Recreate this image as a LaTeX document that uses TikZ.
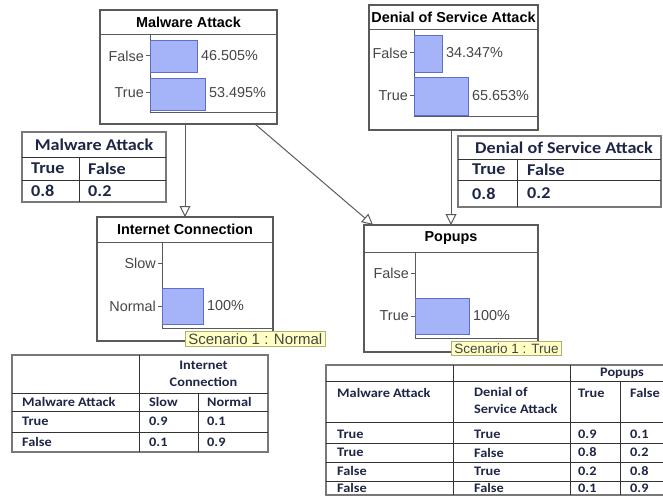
\documentclass[tikz,border=0pt]{standalone}
\usepackage{fontspec}
\setmainfont{Liberation Sans}
\newfontfamily\tabfont[FakeStretch=1.1]{Carlito}
\usetikzlibrary{arrows.meta}

\definecolor{barfill}{RGB}{165,180,248}
\definecolor{bardraw}{RGB}{95,110,200}
\definecolor{boxgray}{RGB}{90,90,90}
\definecolor{labgray}{RGB}{70,70,70}
\definecolor{tipfill}{RGB}{255,255,196}
\definecolor{tipdraw}{RGB}{175,175,120}
\definecolor{tabblue}{RGB}{30,38,70}
\definecolor{tabgray}{RGB}{120,120,120}

\tikzset{
	bnbox/.style={draw=boxgray, line width=1.3pt, fill=white, inner sep=0pt, outer sep=0pt},
	bnline/.style={draw=boxgray, line width=1pt},
	bntitle/.style={font=\fontsize{14.4}{16}\selectfont\bfseries, inner sep=0pt},
	bnlab/.style={font=\fontsize{14.4}{16}\selectfont, text=labgray, inner sep=0pt},
	bar/.style={fill=barfill, draw=bardraw, line width=0.8pt},
	tip/.style={fill=tipfill, draw=tipdraw, line width=0.8pt, font=\fontsize{15}{17}\selectfont, text=labgray, inner xsep=3pt, inner ysep=2pt, anchor=north west},
	link/.style={draw=boxgray, line width=1pt, -{Triangle[open, width=11pt, length=11pt]}},
	tabtxt/.style={font=\tabfont\bfseries\fontsize{13}{17}\selectfont, text=tabblue, inner sep=0pt, anchor=west},
	tabbig/.style={tabtxt, font=\tabfont\bfseries\fontsize{16.5}{18}\selectfont},
	tabline/.style={draw=black!80, line width=0.8pt},
	tabframe/.style={draw=tabgray, line width=1.6pt}
}

\begin{document}
\begin{tikzpicture}[x=1pt, y=-1pt]
			\useasboundingbox (0,0) rectangle (663,497);
			% network nodes
			\node[bnbox, minimum width=177pt, minimum height=114pt] (ma) at (188.5,67) {};
			\node[bnbox, minimum width=169pt, minimum height=125pt] (dos) at (453.5,67.5) {};
			\node[bnbox, minimum width=176pt, minimum height=124pt] (ic) at (185,279) {};
			\node[bnbox, minimum width=174pt, minimum height=127pt] (pp) at (451,288.5) {};
			\node[bntitle] (maT) at (188.5,22.5) {Malware Attack};
			\node[bntitle] (dosT) at (453.5,17.5) {Denial of Service Attack};
			\node[bntitle] (icT) at (185,229.5) {Internet Connection};
			\node[bntitle] (ppT) at (451,238.5) {Popups};
			\draw[bnline] (100,35) -- (277,35);
			\draw[bnline] (369,30) -- (538,30);
			\draw[bnline] (97,242) -- (273,242);
			\draw[bnline] (364,252) -- (538,252);
			\draw[bnline] (150,35) -- (150,113) -- (277,113);
			\draw[bnline] (414,30) -- (414,117) -- (538,117);
			\draw[bnline] (162,242) -- (162,328) -- (273,328);
			\draw[bnline] (415,252) -- (415,338) -- (538,338);
			\draw[bar] (150,40) rectangle (197,72);
			\draw[bar] (150,78) rectangle (205,110);
			\draw[bar] (414,35) rectangle (442,72);
			\draw[bar] (414,77) rectangle (468,115);
			\draw[bar] (162,288) rectangle (203,324);
			\draw[bar] (415,298) rectangle (469,334);
			\draw[bnline] (146,56) -- (150,56);
			\draw[bnline] (146,93) -- (150,93);
			\draw[bnline] (410,53) -- (414,53);
			\draw[bnline] (410,96) -- (414,96);
			\draw[bnline] (158,263) -- (162,263);
			\draw[bnline] (158,306) -- (162,306);
			\draw[bnline] (411,273) -- (415,273);
			\draw[bnline] (411,316) -- (415,316);
			\node[bnlab, anchor=east] (maF) at (144,56) {False};
			\node[bnlab, anchor=east] (maTr) at (144,93) {True};
			\node[bnlab, anchor=east] (dosF) at (408,53) {False};
			\node[bnlab, anchor=east] (dosTr) at (408,96) {True};
			\node[bnlab, anchor=east] (icS) at (156,263) {Slow};
			\node[bnlab, anchor=east] (icN) at (156,306) {Normal};
			\node[bnlab, anchor=east] (ppF) at (409,273) {False};
			\node[bnlab, anchor=east] (ppTr) at (409,316) {True};
			\node[bnlab, anchor=west] (maFp) at (201,56) {46.505\%};
			\node[bnlab, anchor=west] (maTp) at (209,93) {53.495\%};
			\node[bnlab, anchor=west] (dosFp) at (446,53) {34.347\%};
			\node[bnlab, anchor=west] (dosTp) at (472,96) {65.653\%};
			\node[bnlab, anchor=west] (icNp) at (207,306) {100\%};
			\node[bnlab, anchor=west] (ppTp) at (473,316) {100\%};
			\node[tip] (icTip) at (185,331) {Scenario 1 : Normal};
			\node[tip, font=\fontsize{13.5}{16}\selectfont] (ppTip) at (451,341) {Scenario 1 : True};
			% links
			\draw[link] (ma.south -| ic.north) -- (ic.north);
			\draw[link] ([xshift=-22pt]ma.south east) -- ([xshift=9pt]pp.north west);
			\draw[link] (pp.north |- dos.south) -- (pp.north);
			% prior tables
			\draw[tabframe] (22,132) rectangle (166,202);
			\draw[tabline] (22,157) -- (166,157) (22,180) -- (166,180) (79,157) -- (79,202);
			\node[tabbig, anchor=center] (pma) at (94,144.5) {Malware Attack};
			\node[tabbig] (pmaT) at (31,168.5) {True};
			\node[tabbig] (pmaF) at (88,168.5) {False};
			\node[tabbig] (pma1) at (31,191) {0.8};
			\node[tabbig] (pma2) at (88,191) {0.2};
			\draw[tabframe] (458,136) rectangle (661,207);
			\draw[tabline] (458,159) -- (661,159) (458,180) -- (661,180) (517,159) -- (517,207);
			\node[tabbig, anchor=center] (pdos) at (564,147.5) {Denial of Service Attack};
			\node[tabbig] (pdosT) at (472,169.5) {True};
			\node[tabbig] (pdosF) at (527,169.5) {False};
			\node[tabbig] (pdos1) at (472,193.5) {0.8};
			\node[tabbig] (pdos2) at (527,193.5) {0.2};
			% conditional tables
			\draw[tabframe] (12,355) rectangle (268,452);
			\draw[tabline] (12,393) -- (268,393) (12,411) -- (268,411) (12,432) -- (268,432) (139,355) -- (139,452) (198,393) -- (198,452);
			\node[tabtxt, anchor=center, align=center] (cic) at (203.5,374) {Internet\\Connection};
			\node[tabtxt] (cicH1) at (22,402) {Malware Attack};
			\node[tabtxt] (cicH2) at (149,402) {Slow};
			\node[tabtxt] (cicH3) at (207,402) {Normal};
			\node[tabtxt] (cic11) at (22,421.5) {True};
			\node[tabtxt] (cic12) at (149,421.5) {0.9};
			\node[tabtxt] (cic13) at (207,421.5) {0.1};
			\node[tabtxt] (cic21) at (22,442) {False};
			\node[tabtxt] (cic22) at (149,442) {0.1};
			\node[tabtxt] (cic23) at (207,442) {0.9};
			\draw[tabframe] (326,365) rectangle (675,495);
			\draw[tabline] (326,381) -- (675,381) (326,422) -- (675,422) (326,443) -- (675,443) (326,462) -- (675,462) (326,481) -- (675,481);
			\draw[tabline] (453,365) -- (453,495) (570,365) -- (570,495) (620,381) -- (620,495);
			\node[tabtxt, anchor=center] (cpp) at (622,373) {Popups};
			\node[tabtxt] (cppH1) at (337,393) {Malware Attack};
			\node[tabtxt, anchor=north west, align=left] (cppH2) at (474,387) {Denial of\\Service Attack};
			\node[tabtxt] (cppH3) at (578,393) {True};
			\node[tabtxt] (cppH4) at (630,393) {False};
			\node[tabtxt] (cpp11) at (337,434) {True};
			\node[tabtxt] (cpp12) at (474,434) {True};
			\node[tabtxt] (cpp13) at (578,434) {0.9};
			\node[tabtxt] (cpp14) at (630,434) {0.1};
			\node[tabtxt] (cpp21) at (337,452.5) {True};
			\node[tabtxt] (cpp22) at (474,452.5) {False};
			\node[tabtxt] (cpp23) at (578,452.5) {0.8};
			\node[tabtxt] (cpp24) at (630,452.5) {0.2};
			\node[tabtxt] (cpp31) at (337,471) {False};
			\node[tabtxt] (cpp32) at (474,471) {True};
			\node[tabtxt] (cpp33) at (578,471) {0.2};
			\node[tabtxt] (cpp34) at (630,471) {0.8};
			\node[tabtxt] (cpp41) at (337,488) {False};
			\node[tabtxt] (cpp42) at (474,488) {False};
			\node[tabtxt] (cpp43) at (578,488) {0.1};
			\node[tabtxt] (cpp44) at (630,488) {0.9};
\end{tikzpicture}
\end{document}
